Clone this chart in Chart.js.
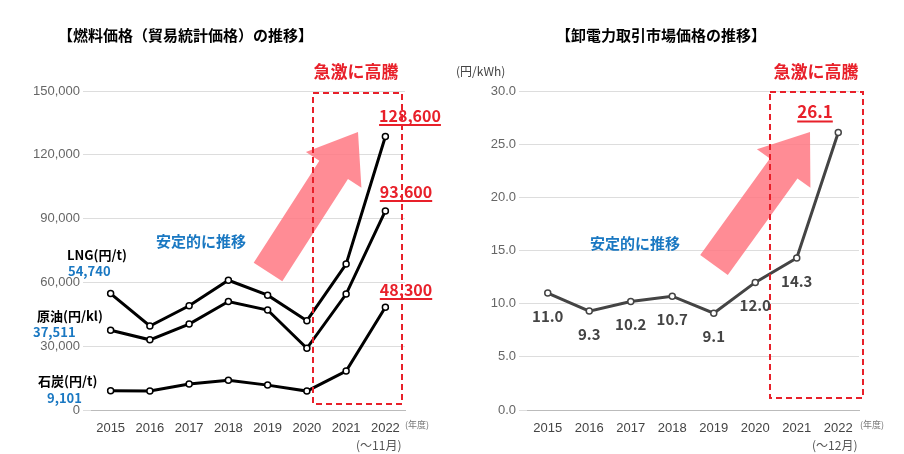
<!DOCTYPE html>
<html><head><meta charset="utf-8">
<script src="https://cdn.jsdelivr.net/npm/chart.js@4"></script>
<style>
body{margin:0;background:#fff;font-family:"Noto Sans CJK JP","Noto Sans",sans-serif;}
#wrap{position:relative;width:904px;height:454px;overflow:hidden;}
canvas{position:absolute;top:0;}
.t{position:absolute;white-space:nowrap;font-weight:bold;}
</style></head><body>
<div id="wrap">
<canvas id="c1" width="452" height="454" style="left:0"></canvas>
<canvas id="c2" width="452" height="454" style="left:452px"></canvas>
<div class="t" style="left:58px;top:24px;font-size:15px">【燃料価格（貿易統計価格）の推移】</div>
<div class="t" style="left:556px;top:24px;font-size:15px">【卸電力取引市場価格の推移】</div>
<div class="t" style="left:67px;top:245px;font-size:13px">LNG(円/t)</div>
<div class="t" style="left:68px;top:261px;font-size:13px;color:#1a78c2">54,740</div>
<div class="t" style="left:37px;top:306px;font-size:13px">原油(円/kl)</div>
<div class="t" style="left:33px;top:322px;font-size:13px;color:#1a78c2">37,511</div>
<div class="t" style="left:38px;top:371px;font-size:13px">石炭(円/t)</div>
<div class="t" style="left:47px;top:388px;font-size:13px;color:#1a78c2">9,101</div>
<div class="t" style="left:405px;top:418px;font-size:9px;color:#777;font-weight:normal">(年度)</div>
<div class="t" style="left:356px;top:436px;font-size:12px;color:#555;font-weight:normal">(～11月)</div>
<div class="t" style="left:860px;top:418px;font-size:9px;color:#777;font-weight:normal">(年度)</div>
<div class="t" style="left:812px;top:436px;font-size:12px;color:#555;font-weight:normal">(～12月)</div>
<div class="t" style="left:456px;top:62px;font-size:12px;color:#444;font-weight:normal">(円/kWh)</div>
</div>
<script>
const years = ['2015','2016','2017','2018','2019','2020','2021','2022'];
const lng = [54740, 39500, 49000, 61000, 54000, 42000, 68600, 128600];
const crude = [37511, 33000, 40400, 51000, 47000, 29000, 54500, 93600];
const coal = [9101, 8900, 12200, 14000, 11700, 8900, 18300, 48300];
const power = [11.0, 9.3, 10.2, 10.7, 9.1, 12.0, 14.3, 26.1];

function arrow(ctx, x1, y1, x2, y2) {
  const a = Math.atan2(y2 - y1, x2 - x1), L = Math.hypot(x2 - x1, y2 - y1);
  ctx.save(); ctx.translate(x1, y1); ctx.rotate(a);
  ctx.fillStyle = 'rgba(255,120,130,0.85)';
  ctx.beginPath();
  ctx.moveTo(0, -17); ctx.lineTo(L - 45, -17); ctx.lineTo(L - 45, -33); ctx.lineTo(L, 0);
  ctx.lineTo(L - 45, 33); ctx.lineTo(L - 45, 17); ctx.lineTo(0, 17); ctx.closePath(); ctx.fill();
  ctx.restore();
}
function txt(ctx, s, x, y, color, size, underline) {
  ctx.save(); ctx.font = 'bold ' + size + 'px "Noto Sans CJK JP"'; ctx.fillStyle = color;
  ctx.textAlign = 'center'; ctx.textBaseline = 'middle'; ctx.fillText(s, x, y);
  if (underline) { const w = ctx.measureText(s).width; ctx.fillRect(x - w / 2, y + size / 2, w, 2); }
  ctx.restore();
}
function box(ctx, x1, y1, x2, y2) {
  ctx.save(); ctx.strokeStyle = '#e8202a'; ctx.lineWidth = 2; ctx.setLineDash([6, 4]);
  ctx.strokeRect(x1, y1, x2 - x1, y2 - y1); ctx.restore();
}
function ds(data, color) {
  return {data, borderColor: color, borderWidth: 3, pointRadius: 3, pointBackgroundColor: '#fff',
    pointBorderColor: color, pointBorderWidth: 1.5, tension: 0};
}
function scales(min, max, step, yw, fmt) {
  return {
    x: {offset: true, grid: {display: false}, border: {color: '#bbb'},
      ticks: {color: '#444', font: {size: 13}}, afterFit: s => { s.height = 44; }},
    y: {min, max, ticks: {stepSize: step, color: '#666', font: {size: 13}, callback: fmt},
      grid: {color: '#ddd'}, border: {display: false}, afterFit: s => { s.width = yw; }}
  };
}
const base = {responsive: false, animation: false, plugins: {legend: {display: false}, tooltip: {enabled: false}}};

new Chart(document.getElementById('c1'), {
  type: 'line',
  data: {labels: years, datasets: [ds(lng, '#000'), ds(crude, '#000'), ds(coal, '#000')]},
  options: Object.assign({}, base, {
    layout: {padding: {top: 91, right: 47, left: 0, bottom: 0}},
    scales: scales(0, 150000, 30000, 91, v => v.toLocaleString('en-US'))
  }),
  plugins: [{id: 'ann1', afterDatasetsDraw(ch) {
    const c = ch.ctx;
    arrow(c, 268, 272, 358, 132);
    box(c, 313, 93, 402, 404);
    txt(c, '急激に高騰', 356, 72, '#e8202a', 17);
    txt(c, '128,600', 410, 116, '#e8202a', 16, true);
    txt(c, '93,600', 406, 192, '#e8202a', 16, true);
    txt(c, '48,300', 406, 290, '#e8202a', 16, true);
    txt(c, '安定的に推移', 201, 241, '#1a78c2', 15);
  }}]
});

new Chart(document.getElementById('c2'), {
  type: 'line',
  data: {labels: years, datasets: [ds(power, '#444')]},
  options: Object.assign({}, base, {
    layout: {padding: {top: 91, right: 45, left: 0, bottom: 0}},
    scales: scales(0, 30, 5, 75, v => v.toFixed(1))
  }),
  plugins: [{id: 'ann2', afterDatasetsDraw(ch) {
    const c = ch.ctx, xs = ch.scales.x, ys = ch.scales.y;
    arrow(c, 262, 265, 358, 132);
    box(c, 318, 92, 411, 398);
    txt(c, '急激に高騰', 364, 72, '#e8202a', 17);
    txt(c, '26.1', 363, 112, '#e8202a', 17, true);
    txt(c, '安定的に推移', 183, 243, '#1a78c2', 15);
    power.forEach((v, i) => {
      if (i === 7) return;
      let x = xs.getPixelForValue(i), y = ys.getPixelForValue(v) + 23;
      if (i === 6) { y = ys.getPixelForValue(v) + 23; }
      txt(c, v.toFixed(1), x, y, '#444', 15);
    });
  }}]
});
</script>
</body></html>
